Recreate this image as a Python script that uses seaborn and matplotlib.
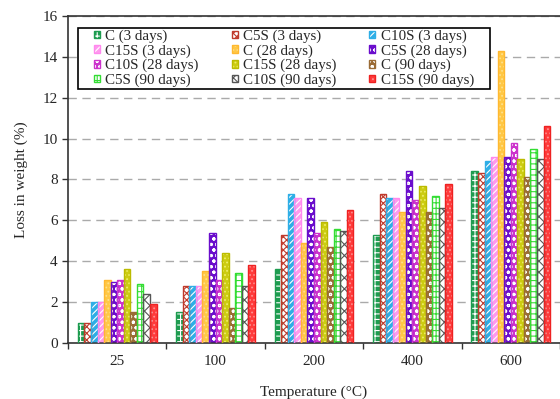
import pandas as pd
import matplotlib
matplotlib.use("Agg")
import matplotlib.pyplot as plt
from matplotlib.patches import Patch, Rectangle
from matplotlib.legend_handler import HandlerBase
from matplotlib.path import Path
import seaborn as sns

# data
temperatures = ["25", "100", "200", "400", "600"]
series = ["C (3 days)", "C5S (3 days)", "C10S (3 days)",
          "C15S (3 days)", "C (28 days)", "C5S (28 days)",
          "C10S (28 days)", "C15S (28 days)", "C (90 days)",
          "C5S (90 days)", "C10S (90 days)", "C15S (90 days)"]
c_3 = [1.0, 1.5, 3.6, 5.3, 8.4]
c5s_3 = [1.0, 2.8, 5.3, 7.3, 8.3]
c10s_3 = [2.0, 2.8, 7.3, 7.1, 8.9]
c15s_3 = [2.0, 2.8, 7.1, 7.1, 9.1]
c_28 = [3.1, 3.5, 4.9, 6.4, 14.3]
c5s_28 = [3.0, 5.4, 7.1, 8.4, 9.1]
c10s_28 = [3.1, 3.1, 5.4, 7.0, 9.8]
c15s_28 = [3.6, 4.4, 5.9, 7.7, 9.0]
c_90 = [1.5, 1.7, 4.7, 6.4, 8.1]
c5s_90 = [2.9, 3.4, 5.6, 7.2, 9.5]
c10s_90 = [2.4, 2.8, 5.5, 6.6, 9.0]
c15s_90 = [1.9, 3.8, 6.5, 7.8, 10.6]
values = [c_3, c5s_3, c10s_3, c15s_3, c_28, c5s_28,
          c10s_28, c15s_28, c_90, c5s_90, c10s_90, c15s_90]

# styles: (face, hatch colour, outline, hatch)
styles = [
    ("#1e9c50", "white", "#1e9c50", "+++"),
    ("white", "#c0392b", "#c0392b", "xxxxx"),
    ("#2eaee6", "white", "#2eaee6", "/////"),
    ("#ff99ee", "white", "#ff88ee", "/////"),
    ("#ffc845", "#ffe08a", "#ffb830", "...."),
    ("#6a0dcc", "white", "#6a0dcc", "ooo"),
    ("#cc33cc", "white", "#cc33cc", "ooo"),
    ("#cccc11", "#eeee66", "#bbbb00", "...."),
    ("#9a6b36", "white", "#9a6b36", "ooo"),
    ("white", "#33dd33", "#33dd33", "+++"),
    ("white", "#555555", "#555555", "xxx"),
    ("#ff3b3b", "#ff9090", "#ee2222", "...."),
]

rows = []
for s, vals in zip(series, values):
    for t, v in zip(temperatures, vals):
        rows.append({"Temperature": t, "Series": s, "Loss": v})
df = pd.DataFrame(rows)


class SquareHandler(HandlerBase):
    # small filled square with a coloured outline
    def create_artists(self, legend, orig_handle, xdescent, ydescent,
                       width, height, fontsize, trans):
        fill = Rectangle((-xdescent, -ydescent), width, height,
                         facecolor=orig_handle.get_facecolor(),
                         edgecolor=orig_handle.get_edgecolor(),
                         hatch=orig_handle.get_hatch(), linewidth=0, transform=trans)
        line = Rectangle((-xdescent, -ydescent), width, height, fill=False,
                         edgecolor=orig_handle.outline, linewidth=1.0, transform=trans)
        return [fill, line]


class PadBox:
    # frame with separate horizontal / vertical padding
    def __init__(self, padx, pady):
        self.padx = padx
        self.pady = pady

    def __call__(self, x0, y0, width, height, mutation_size):
        px = self.padx * mutation_size
        py = self.pady * mutation_size
        x1, y1 = x0 + width + px, y0 + height + py
        x0, y0 = x0 - px, y0 - py
        return Path([(x0, y0), (x1, y0), (x1, y1), (x0, y1), (x0, y0)], closed=True)


sns.set_theme(style="white")
plt.rcParams["font.family"] = ["Liberation Serif", "DejaVu Serif"]
plt.rcParams["hatch.linewidth"] = 0.8

fig = plt.figure(figsize=(5.6, 3.99), dpi=100)
ax = fig.add_axes([0.1214, 0.1404, 0.8786, 0.8195])

sns.barplot(data=df, x="Temperature", y="Loss", hue="Series",
            order=temperatures, hue_order=series, width=0.8,
            palette=["#888888"] * len(series), legend=False, ax=ax)

# colour + hatch each series, then add an outline on top
for cont, (face, hcol, edge, hatch) in zip(ax.containers, styles):
    for bar in cont:
        bar.set_facecolor(face)
        bar.set_edgecolor(hcol)
        bar.set_hatch(hatch)
        bar.set_linewidth(0)
        ax.add_patch(Rectangle(bar.get_xy(), bar.get_width(), bar.get_height(),
                               fill=False, edgecolor=edge, linewidth=1.0, zorder=3))

ax.set_ylim(0, 16)
ax.set_xlim(-0.5, 4.5)
ax.set_yticks(range(0, 17, 2))
ax.set_xticks(range(len(temperatures)))
ax.set_xticklabels(temperatures)
ax.set_xticks([i - 0.5 for i in range(len(temperatures) + 1)], minor=True)
ax.tick_params(axis="x", which="major", length=0, labelsize=11, pad=9)
ax.tick_params(axis="x", which="minor", length=4, width=1, color="#333333", direction="out", bottom=True)
ax.tick_params(axis="y", length=4, width=1, color="#333333", direction="out", labelsize=11, left=True)

ax.yaxis.grid(True, linestyle=(0, (6, 4)), color="#aaaaaa", linewidth=1)
ax.set_axisbelow(True)
for side in ["left", "bottom", "top"]:
    ax.spines[side].set_color("#333333")
    ax.spines[side].set_linewidth(1.2)
ax.spines["right"].set_visible(False)

ax.set_xlabel("Temperature (\u00b0C)", fontsize=11, labelpad=12)
ax.set_ylabel("Loss in weight (%)", fontsize=11, labelpad=10)

# legend filled row by row (3 columns x 4 rows)
handles = []
for f, h, e, ht in styles:
    p = Patch(facecolor=f, edgecolor=h, hatch=ht)
    p.outline = e
    handles.append(p)
ncol, nrow = 3, 4
order = [r * ncol + c for c in range(ncol) for r in range(nrow)]
leg = ax.legend([handles[i] for i in order], [series[i] for i in order],
                handler_map={Patch: SquareHandler()},
                ncol=ncol, loc="upper left",
                bbox_to_anchor=(0.05, 0.963), borderaxespad=0,
                fontsize=10.8, handlelength=0.4, handleheight=0.4,
                handletextpad=0.35, labelspacing=0.08, columnspacing=2.2,
                borderpad=0.1, fancybox=False, framealpha=1)
leg.get_frame().set_boxstyle(PadBox(1.0, 0.02))
leg.get_frame().set_edgecolor("black")
leg.get_frame().set_linewidth(1.2)

plt.savefig("out.png", dpi=100)
